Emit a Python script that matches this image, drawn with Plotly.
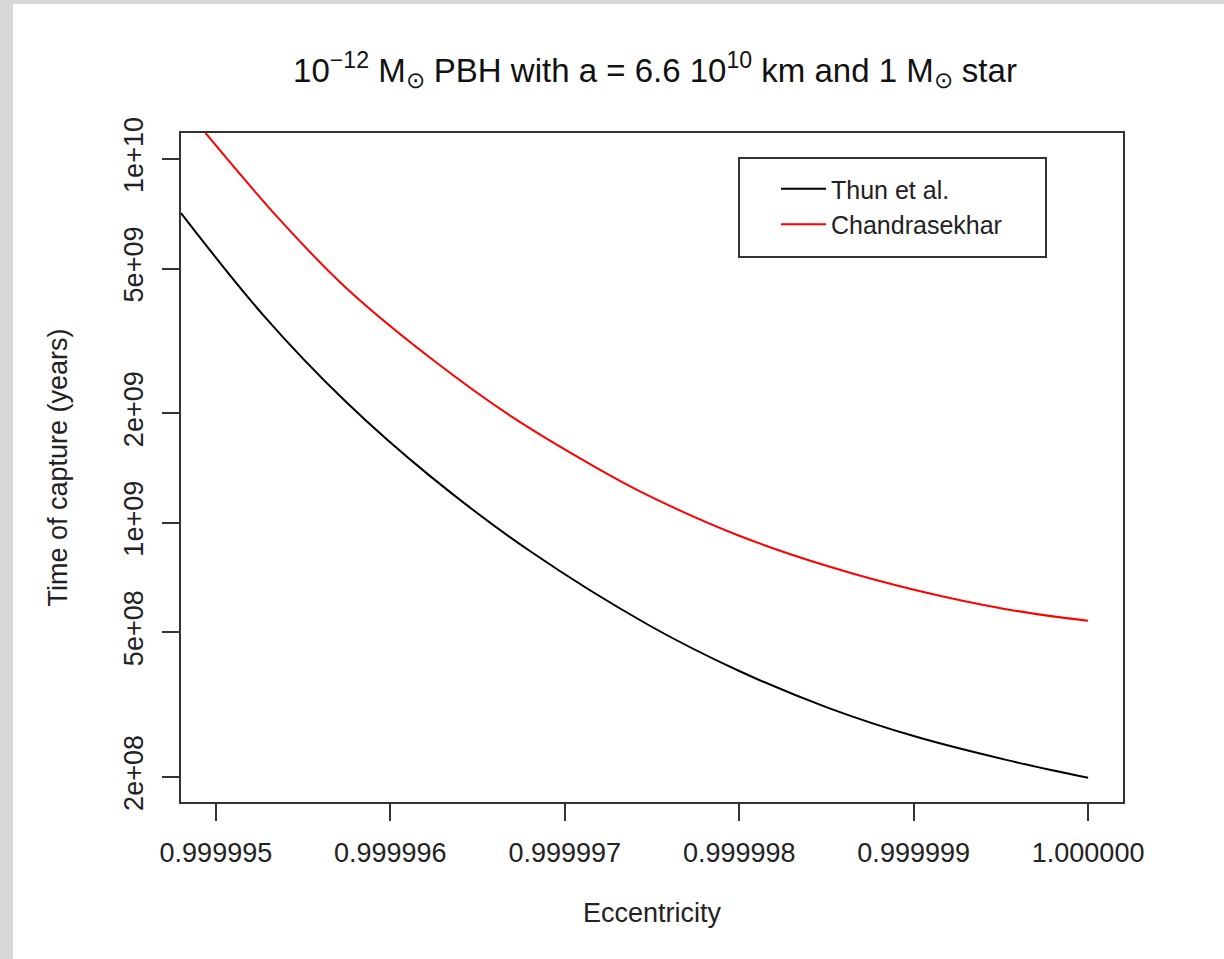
import plotly.graph_objects as go

# ---- data ----
ecc_thun = [0.9999948, 0.99999527, 0.99999575, 0.99999623, 0.9999968, 0.99999748,
            0.999998, 0.99999851, 0.99999902, 0.99999953, 1.0]
t_thun = [7.10e9, 3.73e9, 2.14e9, 1.341e9, 8.36e8, 5.235e8,
          3.912e8, 3.099e8, 2.575e8, 2.229e8, 1.99e8]

ecc_chandra = [0.99999494, 0.99999537, 0.99999575, 0.99999623, 0.9999967, 0.9999972,
               0.99999748, 0.999998, 0.99999851, 0.99999902, 0.99999953, 1.0]
t_chandra = [1.18e10, 6.78e9, 4.406e9, 2.837e9, 1.951e9, 1.40e9,
             1.187e9, 9.21e8, 7.59e8, 6.51e8, 5.785e8, 5.375e8]

x_ticks = [0.999995, 0.999996, 0.999997, 0.999998, 0.999999, 1.0]
x_ticktext = ["0.999995", "0.999996", "0.999997", "0.999998", "0.999999", "1.000000"]
y_ticks = [2e8, 5e8, 1e9, 2e9, 5e9, 1e10]
y_ticktext = ["2e+08", "5e+08", "1e+09", "2e+09", "5e+09", "1e+10"]

series_names = ["Thun et al.", "Chandrasekhar"]
series_colors = ["#000000", "#ff0000"]

W, H = 1224, 959
L, R, T, B = 181, 101, 133, 157
PW, PH = W - L - R, H - T - B
FONT = "Liberation Sans, Arial, Helvetica, sans-serif"

def px(xp):
    return (xp - L) / PW

def py(yp):
    return (H - B - yp) / PH

fig = go.Figure()
fig.add_trace(go.Scatter(x=ecc_thun, y=t_thun, mode="lines", name=series_names[0],
                         line=dict(color=series_colors[0], width=2, shape="spline", smoothing=1)))
fig.add_trace(go.Scatter(x=ecc_chandra, y=t_chandra, mode="lines", name=series_names[1],
                         line=dict(color=series_colors[1], width=2, shape="spline", smoothing=1)))

# grey border strips (left and top) of the original image
fig.add_shape(type="rect", xref="paper", yref="paper", layer="below",
              x0=px(0), x1=px(13), y0=py(H), y1=py(0),
              fillcolor="#d8d8d8", line=dict(width=0))
fig.add_shape(type="rect", xref="paper", yref="paper", layer="below",
              x0=px(0), x1=px(W), y0=py(4), y1=py(0),
              fillcolor="#d8d8d8", line=dict(width=0))
# legend frame
fig.add_shape(type="rect", xref="paper", yref="paper", layer="above",
              x0=px(739), x1=px(1046), y0=py(257), y1=py(158),
              fillcolor="white", line=dict(color="#333", width=2))

fig.update_layout(
    width=W, height=H,
    margin=dict(l=L, r=R, t=T, b=B, pad=0),
    paper_bgcolor="white", plot_bgcolor="white",
    font=dict(family=FONT, size=27, color="#222"),
    title=dict(
        text="10<sup>\u221212</sup> M<sub>\u2299</sub> PBH with a = 6.6 10<sup>10</sup> km and 1 M<sub>\u2299</sub> star",
        xref="container", x=655 / W, xanchor="center",
        yref="container", y=1 - 70 / H, yanchor="middle",
        font=dict(family=FONT, size=33, color="#111")),
    showlegend=True,
    legend=dict(x=px(776), y=py(166), xanchor="left", yanchor="top",
                bgcolor="rgba(0,0,0,0)", borderwidth=0,
                font=dict(family=FONT, size=25, color="#222"),
                itemwidth=45, tracegroupgap=0),
    xaxis=dict(
        range=[0.9999948, 1.0000002], tickvals=x_ticks, ticktext=x_ticktext,
        ticks="outside", ticklen=17, tickwidth=2, tickcolor="#333",
        ticklabelstandoff=9,
        showline=True, linecolor="#333", linewidth=2, mirror=True,
        showgrid=False, zeroline=False,
        title=dict(text="Eccentricity", standoff=36, font=dict(size=27)),
    ),
    yaxis=dict(
        type="log", range=[8.2323, 10.0715], tickvals=y_ticks, ticktext=y_ticktext,
        tickangle=-90,
        ticks="outside", ticklen=17, tickwidth=2, tickcolor="#333",
        ticklabelstandoff=8,
        showline=True, linecolor="#333", linewidth=2, mirror=True,
        showgrid=False, zeroline=False,
        title=dict(text="Time of capture (years)", standoff=44, font=dict(size=27)),
    ),
)

fig.write_html("out.html")
